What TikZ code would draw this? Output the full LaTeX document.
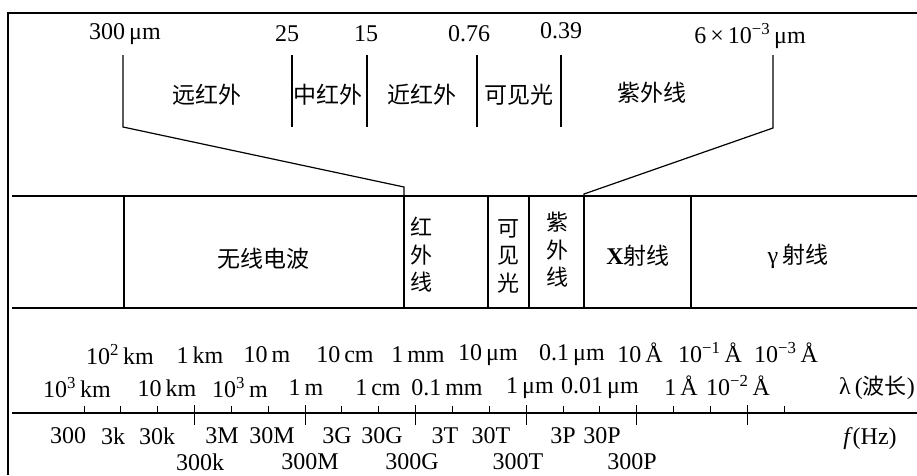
\documentclass[tikz,border=0pt]{standalone}
\usepackage{fontspec}
\setmainfont{Liberation Serif}
\newfontfamily\cjk{Noto Sans CJK SC}
\newcommand{\sps}[1]{\textsuperscript{#1}}
\begin{document}
\begin{tikzpicture}[x=1pt,y=-1pt,line width=1.2pt,
  lbl/.style={inner sep=0pt,font=\fontsize{24}{28}\selectfont},
  zh/.style={inner sep=0pt,font=\fontsize{23}{27}\selectfont\cjk},
  zhv/.style={inner sep=0pt,align=center,font=\fontsize{22}{27.5}\selectfont\cjk},
  smalltick/.style={line width=1pt},
  bigtick/.style={line width=1.2pt}]
\useasboundingbox (0,0) rectangle (917,475);
\fill[white] (0,0) rectangle (917,475);

% frame
\draw (8,475) -- (8,13) -- (917,13);

% ---------- top: infrared / visible / UV detail ----------
\node[lbl] (l300) at (125,34) {300\,μm};
\node[lbl] (l25) at (287,34) {25};
\node[lbl] (l15) at (366,34) {15};
\node[lbl] (l076) at (469,34) {0.76};
\node[lbl] (l039) at (561,31) {0.39};
\node[lbl] (l6) at (750,36) {6\,×\,10\sps{−3}\,μm};

\node[zh] (far) at (207,95) {远红外};
\node[zh] (mid) at (328,95) {中红外};
\node[zh] (near) at (422,95) {近红外};
\node[zh] (vis) at (519,95) {可见光};
\node[zh] (uvt) at (652,93) {紫外线};

\coordinate (a1) at (123,55); \coordinate (a2) at (123,127); \coordinate (a3) at (404,187);
\coordinate (b1) at (773,55); \coordinate (b2) at (773,128); \coordinate (b3) at (584,194);
\draw (a1) -- (a2) -- (a3) -- (404,196);
\draw (b1) -- (b2) -- (b3) -- (584,196);
\draw (292,55) -- (292,127);
\draw (367,55) -- (367,127);
\draw (477,55) -- (477,127);
\draw (561,55) -- (561,127);

% ---------- band ----------
\draw (12,196) -- (917,196);
\draw (12,308) -- (917,308);
\foreach \x in {124,404,488,529,584,691} \draw (\x,196) -- (\x,308);

\node[zh] (radio) at (263,259) {无线电波};
\node[zhv] (ir) at (421,255) {红\\外\\线};
\node[zhv] (vl) at (508,256) {可\\见\\光};
\node[zhv] (uv) at (557,250) {紫\\外\\线};
\node[lbl] (xray) at (638,256) {\textbf{X}{\cjk\fontsize{23}{27}\selectfont 射线}};
\node[lbl] (gray) at (798,256) {γ\,{\cjk\fontsize{23}{27}\selectfont 射线}};

% ---------- axis ----------
\coordinate (ax0) at (12,413);
\coordinate (ax1) at (917,413);
\draw (ax0) -- (ax1);
\foreach \k in {0,...,19} {
  \pgfmathsetmacro{\tx}{84+36.85*\k}
  \pgfmathtruncatemacro{\m}{mod(\k,3)}
  \ifnum\k>0 \ifnum\m=0
    \draw[bigtick] (\tx,405) -- (\tx,425);
  \else
    \draw[smalltick] (\tx,406) -- (\tx,413);
  \fi\else
    \draw[smalltick] (\tx,406) -- (\tx,413);
  \fi
}

% wavelength labels
\node[lbl] (w1) at (120,355) {10\sps{2}\,km};
\node[lbl] (w2) at (200,355) {1\,km};
\node[lbl] (w3) at (267,355) {10\,m};
\node[lbl] (w4) at (345,355) {10\,cm};
\node[lbl] (w5) at (418,355) {1\,mm};
\node[lbl] (w6) at (488,355) {10\,μm};
\node[lbl] (w7) at (572,355) {0.1\,μm};
\node[lbl] (w8) at (640,353) {10\,Å};
\node[lbl] (w9) at (710,353) {10\sps{−1}\,Å};
\node[lbl] (w10) at (786,353) {10\sps{−3}\,Å};

\node[lbl] (v1) at (77,388) {10\sps{3}\,km};
\node[lbl] (v2) at (167,388) {10\,km};
\node[lbl] (v3) at (240,388) {10\sps{3}\,m};
\node[lbl] (v4) at (306,388) {1\,m};
\node[lbl] (v5) at (378,388) {1\,cm};
\node[lbl] (v6) at (447,388) {0.1\,mm};
\node[lbl] (v7) at (530,388) {1\,μm};
\node[lbl] (v8) at (600,388) {0.01\,μm};
\node[lbl] (v9) at (681,386) {1\,Å};
\node[lbl] (v10) at (738,386) {10\sps{−2}\,Å};
\node[lbl] (lam) at (877,388) {λ\,({\cjk\fontsize{22}{26}\selectfont 波长})};

% frequency labels
\node[lbl] (f1) at (68,436) {300};
\node[lbl] (f2) at (113,436) {3k};
\node[lbl] (f3) at (157,436) {30k};
\node[lbl] (f4) at (222,436) {3M};
\node[lbl] (f5) at (272,436) {30M};
\node[lbl] (f6) at (337,436) {3G};
\node[lbl] (f7) at (382,436) {30G};
\node[lbl] (f8) at (445,436) {3T};
\node[lbl] (f9) at (491,436) {30T};
\node[lbl] (f10) at (563,436) {3P};
\node[lbl] (f11) at (602,436) {30P};
\node[lbl] (fhz) at (870,439) {\textit{f}(Hz)};

\node[lbl] (g1) at (200,462) {300k};
\node[lbl] (g2) at (310,462) {300M};
\node[lbl] (g3) at (412,462) {300G};
\node[lbl] (g4) at (518,462) {300T};
\node[lbl] (g5) at (632,462) {300P};
\end{tikzpicture}
\end{document}
